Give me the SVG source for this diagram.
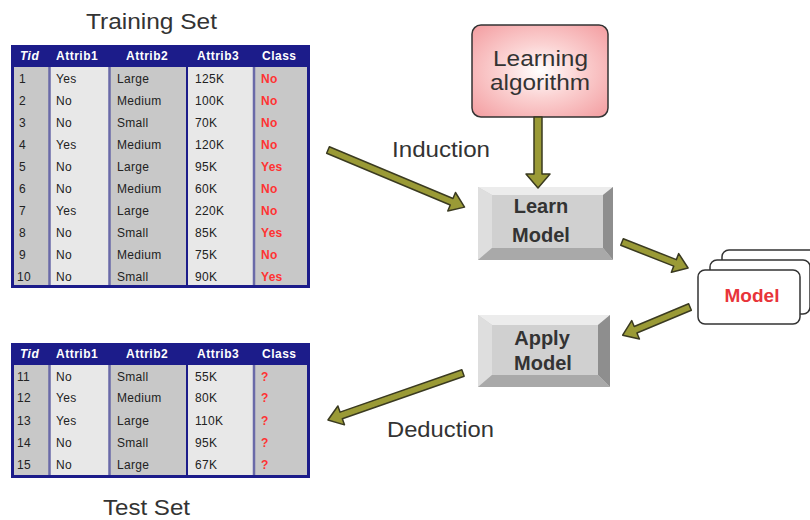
<svg xmlns="http://www.w3.org/2000/svg" width="810" height="520" viewBox="0 0 810 520">
<defs>
<radialGradient id="pink" cx="50%" cy="50%" r="65%">
<stop offset="0" stop-color="#ffffff"/>
<stop offset="0.45" stop-color="#fbd2d2"/>
<stop offset="1" stop-color="#f4a3a6"/>
</radialGradient>
<style>
.lbl{font-family:"Liberation Sans",Arial,sans-serif;font-size:22px;fill:#333}
.hd{font-family:"Liberation Sans",Arial,sans-serif;font-size:12px;font-weight:bold;fill:#fff;letter-spacing:0.5px}
.c{font-family:"Liberation Sans",Arial,sans-serif;font-size:12px;fill:#222;letter-spacing:0.3px}
.r{font-family:"Liberation Sans",Arial,sans-serif;font-size:12px;font-weight:bold;fill:#f33;letter-spacing:0.3px}
.btn{font-family:"Liberation Sans",Arial,sans-serif;font-size:20px;font-weight:bold;fill:#333;text-anchor:middle}
.arr{fill:#9a9a36;stroke:#3a3a20;stroke-width:1.5;stroke-linejoin:round}
.colA{fill:#c8c8c8}.colB{fill:#e8e8e8}
.sep{stroke:#6a6aa8;stroke-width:2.5}
.card{fill:#fff;stroke:#333;stroke-width:1.5}
</style>
</defs>
<rect width="810" height="520" fill="#fff"/>

<g id="training-set">
<text class="lbl" x="86" y="29" textLength="131" lengthAdjust="spacingAndGlyphs">Training Set</text>
<rect x="11" y="45" width="299" height="243" fill="#1c1c8a"/>
<rect class="colA" x="14" y="67" width="35" height="218"/>
<rect class="colB" x="50" y="67" width="59" height="218"/>
<rect class="colA" x="110" y="67" width="76" height="218"/>
<rect class="colB" x="188" y="67" width="65" height="218"/>
<rect class="colA" x="255" y="67" width="52" height="218"/>
<line class="sep" x1="49.5" y1="67" x2="49.5" y2="285"/>
<line class="sep" x1="109.5" y1="67" x2="109.5" y2="285"/>
<line class="sep" x1="254" y1="67" x2="254" y2="285"/>
<text class="hd" x="20" y="60" font-style="italic">Tid</text>
<text class="hd" x="56" y="60">Attrib1</text>
<text class="hd" x="126" y="60">Attrib2</text>
<text class="hd" x="197" y="60">Attrib3</text>
<text class="hd" x="262" y="60">Class</text>
<g>
<text class="c" x="19" y="83">1</text><text class="c" x="56" y="83">Yes</text><text class="c" x="117" y="83">Large</text><text class="c" x="195" y="83">125K</text><text class="r" x="261" y="83">No</text>
<text class="c" x="19" y="105">2</text><text class="c" x="56" y="105">No</text><text class="c" x="117" y="105">Medium</text><text class="c" x="195" y="105">100K</text><text class="r" x="261" y="105">No</text>
<text class="c" x="19" y="127">3</text><text class="c" x="56" y="127">No</text><text class="c" x="117" y="127">Small</text><text class="c" x="195" y="127">70K</text><text class="r" x="261" y="127">No</text>
<text class="c" x="19" y="149">4</text><text class="c" x="56" y="149">Yes</text><text class="c" x="117" y="149">Medium</text><text class="c" x="195" y="149">120K</text><text class="r" x="261" y="149">No</text>
<text class="c" x="19" y="171">5</text><text class="c" x="56" y="171">No</text><text class="c" x="117" y="171">Large</text><text class="c" x="195" y="171">95K</text><text class="r" x="261" y="171">Yes</text>
<text class="c" x="19" y="193">6</text><text class="c" x="56" y="193">No</text><text class="c" x="117" y="193">Medium</text><text class="c" x="195" y="193">60K</text><text class="r" x="261" y="193">No</text>
<text class="c" x="19" y="215">7</text><text class="c" x="56" y="215">Yes</text><text class="c" x="117" y="215">Large</text><text class="c" x="195" y="215">220K</text><text class="r" x="261" y="215">No</text>
<text class="c" x="19" y="237">8</text><text class="c" x="56" y="237">No</text><text class="c" x="117" y="237">Small</text><text class="c" x="195" y="237">85K</text><text class="r" x="261" y="237">Yes</text>
<text class="c" x="19" y="259">9</text><text class="c" x="56" y="259">No</text><text class="c" x="117" y="259">Medium</text><text class="c" x="195" y="259">75K</text><text class="r" x="261" y="259">No</text>
<text class="c" x="17" y="281">10</text><text class="c" x="56" y="281">No</text><text class="c" x="117" y="281">Small</text><text class="c" x="195" y="281">90K</text><text class="r" x="261" y="281">Yes</text>
</g>
</g>

<g id="test-set">
<rect x="11" y="343" width="299" height="135" fill="#1c1c8a"/>
<rect class="colA" x="14" y="365" width="35" height="110"/>
<rect class="colB" x="50" y="365" width="59" height="110"/>
<rect class="colA" x="110" y="365" width="76" height="110"/>
<rect class="colB" x="188" y="365" width="65" height="110"/>
<rect class="colA" x="255" y="365" width="52" height="110"/>
<line class="sep" x1="49.5" y1="365" x2="49.5" y2="475"/>
<line class="sep" x1="109.5" y1="365" x2="109.5" y2="475"/>
<line class="sep" x1="254" y1="365" x2="254" y2="475"/>
<text class="hd" x="20" y="358" font-style="italic">Tid</text>
<text class="hd" x="56" y="358">Attrib1</text>
<text class="hd" x="126" y="358">Attrib2</text>
<text class="hd" x="197" y="358">Attrib3</text>
<text class="hd" x="262" y="358">Class</text>
<text class="c" x="17" y="381">11</text><text class="c" x="56" y="381">No</text><text class="c" x="117" y="381">Small</text><text class="c" x="195" y="381">55K</text><text class="r" x="261" y="381">?</text>
<text class="c" x="17" y="402">12</text><text class="c" x="56" y="402">Yes</text><text class="c" x="117" y="402">Medium</text><text class="c" x="195" y="402">80K</text><text class="r" x="261" y="402">?</text>
<text class="c" x="17" y="425">13</text><text class="c" x="56" y="425">Yes</text><text class="c" x="117" y="425">Large</text><text class="c" x="195" y="425">110K</text><text class="r" x="261" y="425">?</text>
<text class="c" x="17" y="447">14</text><text class="c" x="56" y="447">No</text><text class="c" x="117" y="447">Small</text><text class="c" x="195" y="447">95K</text><text class="r" x="261" y="447">?</text>
<text class="c" x="17" y="469">15</text><text class="c" x="56" y="469">No</text><text class="c" x="117" y="469">Large</text><text class="c" x="195" y="469">67K</text><text class="r" x="261" y="469">?</text>
<text class="lbl" x="103" y="515" font-size="21" textLength="87" lengthAdjust="spacingAndGlyphs">Test Set</text>
</g>

<g id="learning-algorithm">
<rect x="472" y="25" width="136" height="92" rx="9" fill="url(#pink)" stroke="#333" stroke-width="1.5"/>
<text class="lbl" x="493" y="66" font-size="21" textLength="95" lengthAdjust="spacingAndGlyphs">Learning</text>
<text class="lbl" x="490" y="90" font-size="21" textLength="100" lengthAdjust="spacingAndGlyphs">algorithm</text>
</g>

<g id="learn-model">
<rect x="478" y="187" width="135" height="73" fill="#d0d0d0"/>
<polygon points="478,187 613,187 603,195 492,195" fill="#ececec"/>
<polygon points="478,187 492,195 492,248 478,260" fill="#dedede"/>
<polygon points="613,187 613,260 603,248 603,195" fill="#8e8e8e"/>
<polygon points="478,260 613,260 603,248 492,248" fill="#a9a9a9"/>
<text class="btn" x="541" y="213">Learn</text>
<text class="btn" x="541" y="242">Model</text>
</g>

<g id="apply-model">
<rect x="478" y="315" width="132" height="72" fill="#d0d0d0"/>
<polygon points="478,315 610,315 598,325 492,325" fill="#ececec"/>
<polygon points="478,315 492,325 492,375 478,387" fill="#dedede"/>
<polygon points="610,315 610,387 598,375 598,325" fill="#8e8e8e"/>
<polygon points="478,387 610,387 598,375 492,375" fill="#a9a9a9"/>
<text class="btn" x="542" y="345">Apply</text>
<text class="btn" x="543" y="370">Model</text>
</g>

<g id="model">
<rect class="card" x="722" y="250" width="100" height="54" rx="7"/>
<rect class="card" x="710" y="260" width="100" height="54" rx="7"/>
<rect class="card" x="698" y="270" width="102" height="54" rx="7"/>
<text x="752" y="302" text-anchor="middle" font-family="Liberation Sans, Arial, sans-serif" font-size="19" font-weight="bold" fill="#e8343a">Model</text>
</g>

<g id="connectors">
<polygon class="arr" transform="translate(328,150) rotate(22.7)" points="0,-3.5 134,-3.5 134,-10 148,0 134,10 134,3.5 0,3.5"/>
<polygon class="arr" transform="translate(538,117) rotate(90)" points="0,-4 57,-4 57,-12 71,0 57,12 57,4 0,4"/>
<polygon class="arr" transform="translate(622,242) rotate(21.5)" points="0,-3.5 57,-3.5 57,-10 71,0 57,10 57,3.5 0,3.5"/>
<polygon class="arr" transform="translate(690,307) rotate(157.3)" points="0,-3.5 59,-3.5 59,-10 73,0 59,10 59,3.5 0,3.5"/>
<polygon class="arr" transform="translate(463,373) rotate(160.8)" points="0,-3.5 129,-3.5 129,-10 143,0 129,10 129,3.5 0,3.5"/>
<text class="lbl" x="392" y="157" textLength="98" lengthAdjust="spacingAndGlyphs">Induction</text>
<text class="lbl" x="387" y="437" textLength="107" lengthAdjust="spacingAndGlyphs">Deduction</text>
</g>
</svg>
